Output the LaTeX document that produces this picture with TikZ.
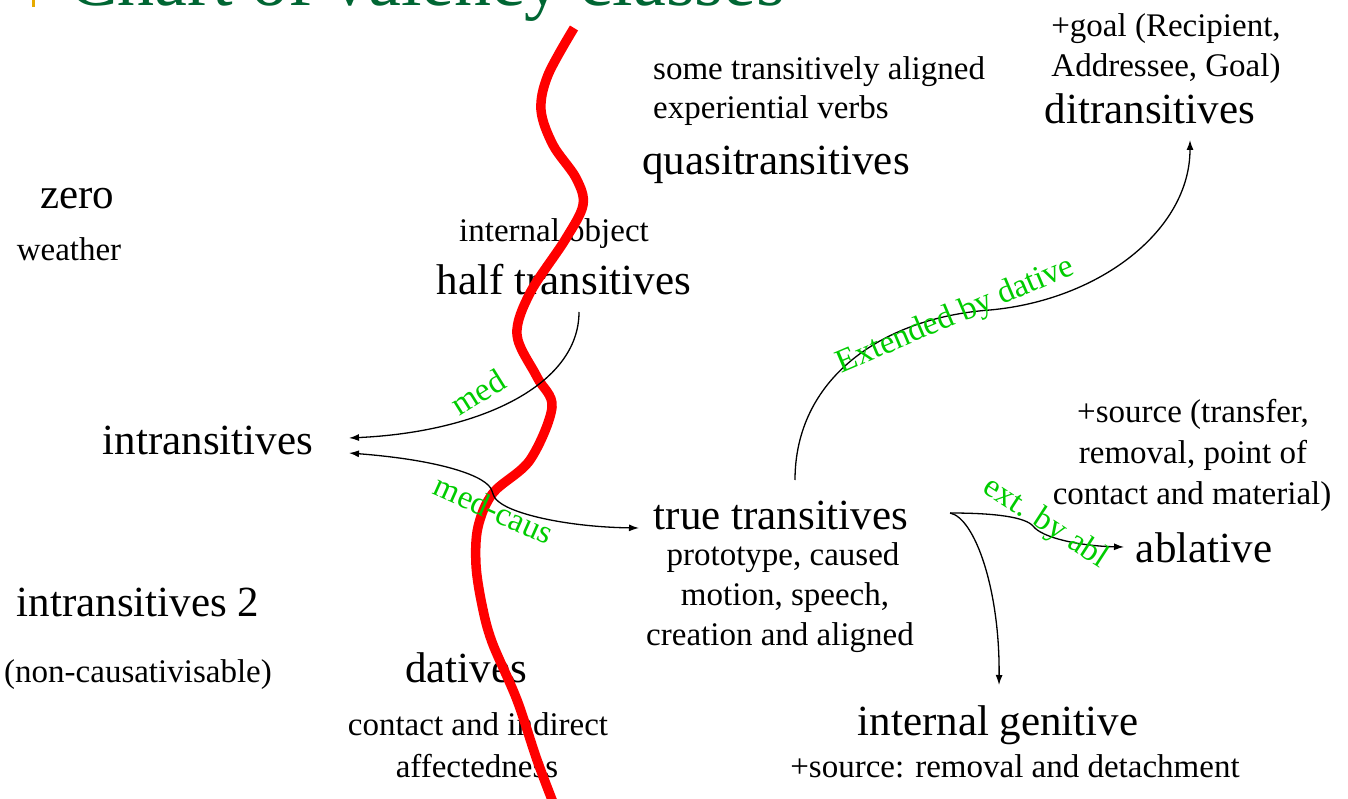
\documentclass[tikz,border=0pt]{standalone}
\usepackage{fontspec}
\setmainfont{Liberation Serif}
\usetikzlibrary{arrows.meta}
\definecolor{titlegreen}{RGB}{0,102,51}
\definecolor{lblgreen}{RGB}{0,204,0}
\definecolor{barorange}{RGB}{230,170,0}
\begin{document}
\begin{tikzpicture}[x=1pt,y=-1pt,
  big/.style={font=\fontsize{43}{48}\selectfont, inner sep=0pt, anchor=base},
  small/.style={font=\fontsize{33}{40}\selectfont, inner sep=0pt, anchor=base},
  glabel/.style={font=\fontsize{33}{40}\selectfont, text=lblgreen, inner sep=0pt},
  conn/.style={line width=1.3pt, -{Latex[length=10pt,width=7pt]}},
  redline/.style={draw=red, line width=9.5pt},
]
\clip (0,0) rectangle (1348,799);
\fill[white] (0,0) rectangle (1348,799);
% title (cut at top)
\node[font=\fontsize{74}{80}\selectfont, text=titlegreen, anchor=base west, inner sep=0pt] (title) at (68,6) {Chart of valency classes};
\fill[barorange] (32,0) rectangle (34.5,7);
% text nodes
\node[small] (goal1) at (1166,37) {+goal (Recipient,};
\node[small] (goal2) at (1166,77) {Addressee, Goal)};
\node[big] (ditr) at (1150,124) {ditransitives};
\node[small, anchor=base west] (quasi1) at (653,80) {some transitively aligned};
\node[small, anchor=base west] (quasi2) at (653,119) {experiential verbs};
\node[big] (quasi) at (776,175) {quasitransitives};
\node[big] (zero) at (77,209) {zero};
\node[small] (weather) at (69,261) {weather};
\node[small] (intobj) at (554,242) {internal object};
\node[big] (half) at (564,295) {half transitives};
\node[big] (intr) at (208,454) {intransitives};
\node[small] (src1) at (1193,422) {+source (transfer,};
\node[small] (src2) at (1193,463) {removal, point of};
\node[small] (src3) at (1192,504) {contact and material)};
\node[big] (true) at (781,529) {true transitives};
\node[small] (proto1) at (783,565) {prototype, caused};
\node[small] (proto2) at (785,605) {motion, speech,};
\node[small] (proto3) at (780,645) {creation and aligned};
\node[big] (abl) at (1204,562) {ablative};
\node[big] (intr2) at (138,616) {intransitives 2};
\node[small] (noncaus) at (138,682) {(non-causativisable)};
\node[big] (dat) at (466,682) {datives};
\node[small] (dat1) at (478,735) {contact and indirect};
\node[small] (dat2) at (477,777) {affectedness};
\node[big] (gen) at (998,735) {internal genitive};
\node[small] (gen1) at (1015,777) {+source: removal and detachment};
% red dividing line
\draw[redline] plot[smooth, tension=0.55] coordinates {(574,28) (548,75) (541,110) (553,145) (576,178) (583,205) (565,240) (530,293) (517,335) (537,377) (552,407) (530,460) (493,493) (478,527) (476,565) (482,605) (492,642) (517,700) (537,760) (556,810)};
% connector end points
\coordinate (halfout) at (579,312);
\coordinate (intrin1) at (349,438);
\coordinate (intrin2) at (349,453);
\coordinate (kinkA) at (492,491);
\coordinate (kinkB) at (499,502);
\coordinate (truein) at (639,528);
\coordinate (trueup) at (795,480);
\coordinate (sbend) at (990,310);
\coordinate (ditrin) at (1190,140);
\coordinate (trueright) at (950,513);
\coordinate (ablbend) at (1033,526);
\coordinate (ablin) at (1124,547);
\coordinate (genin) at (999,685);
% connectors
\draw[conn] (halfout) .. controls (579,385) and (480,432) .. (intrin1);
\draw[line width=1.3pt, {Latex[length=10pt,width=7pt]}-{Latex[length=10pt,width=7pt]}] (intrin2) .. controls (440,460) and (488,476) .. (kinkA) .. controls (494,497) and (495,499) .. (kinkB) .. controls (515,515) and (570,527) .. (truein);
\draw[conn] (trueup) .. controls (795,380) and (880,318) .. (sbend) .. controls (1100,300) and (1190,230) .. (ditrin);
\draw[conn] (trueright) .. controls (995,513) and (1025,517) .. (ablbend) .. controls (1042,538) and (1080,546) .. (ablin);
\draw[conn] (trueright) .. controls (975,518) and (1000,590) .. (genin);
% green edge labels
\node[glabel, rotate=32] (medlbl) at (478,392) {med};
\node[glabel, rotate=-24] (medcaus) at (494,509) {med-caus};
\node[glabel, rotate=23] (extdat) at (956,316) {Extended by dative};
\node[glabel, rotate=-33] (extabl) at (1045,523) {ext. by abl};
\end{tikzpicture}
\end{document}
